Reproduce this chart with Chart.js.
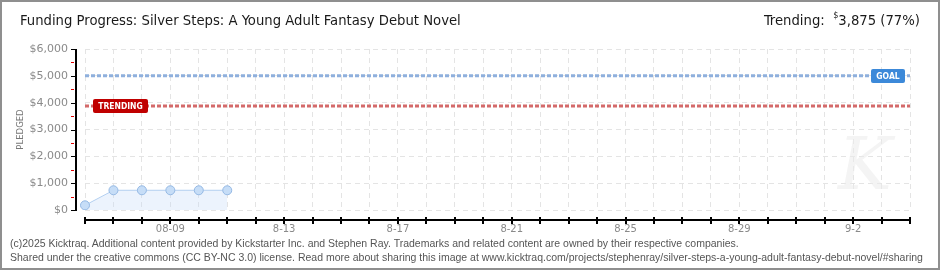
<!DOCTYPE html>
<html>
<head>
<meta charset="utf-8">
<script src="https://cdn.jsdelivr.net/npm/chart.js@4.4.1/dist/chart.umd.min.js"></script>
<style>
  html, body { margin: 0; padding: 0; background: #fff; }
  #wrap { position: relative; width: 940px; height: 270px; overflow: hidden; background: #fff; }
  #c { position: absolute; left: 0; top: 0; }
  #frame { position: absolute; left: 0; top: 0; width: 940px; height: 270px; box-sizing: border-box; border: 2px solid #8f8f8f; pointer-events: none; }
  .t { position: absolute; white-space: nowrap; color: #1a1a1a; font-family: "DejaVu Sans Condensed", "DejaVu Sans", sans-serif; }
  #title { left: 20px; top: 11px; font-size: 14.7px; }
  #trend { right: 20px; top: 11px; font-size: 14.7px; }
  #trend sup { font-size: 9px; position: relative; top: -1px; vertical-align: top; }
  .foot { position: absolute; left: 10px; white-space: nowrap; color: #555; font-family: "Liberation Sans", Arial, sans-serif; font-size: 10.5px; }
  #wm { position: absolute; left: 838px; top: 128px; font-family: "DejaVu Serif", serif; font-style: italic; font-size: 72px; line-height: 1; color: rgba(235,235,235,0.55); pointer-events: none; }
</style>
</head>
<body>
<div id="wrap">
  <canvas id="c" width="940" height="270"></canvas>
  <div id="wm">K</div>
  <div class="t" id="title">Funding Progress: Silver Steps: A Young Adult Fantasy Debut Novel</div>
  <div class="t" id="trend">Trending:&nbsp; <sup>$</sup>3,875 (77%)</div>
  <div class="foot" id="f1" style="top:237px">(c)2025 Kicktraq. Additional content provided by Kickstarter Inc. and Stephen Ray. Trademarks and related content are owned by their respective companies.</div>
  <div class="foot" id="f2" style="top:251px">Shared under the creative commons (CC BY-NC 3.0) license. Read more about sharing this image at www.kicktraq.com/projects/stephenray/silver-steps-a-young-adult-fantasy-debut-novel/#sharing</div>
  <div id="frame"></div>
</div>
<script>
// ---- data ----
const days = ['08-06','08-07','08-08','08-09','08-10','08-11','08-12','08-13','08-14','08-15',
              '08-16','08-17','08-18','08-19','08-20','08-21','08-22','08-23','08-24','08-25',
              '08-26','08-27','08-28','08-29','08-30','08-31','09-01','09-02','09-03','09-04'];
const pledged = [175, 735, 735, 735, 735, 735];
const goal = 5000;
const trending = 3875;
const yTickValues = [0, 1000, 2000, 3000, 4000, 5000, 6000];
const yMinorValues = [500, 1500, 2500, 3500, 4500, 5500];
const xTickLabels = { '08-09': '08-09', '08-13': '8-13', '08-17': '8-17', '08-21': '8-21', '08-25': '8-25', '08-29': '8-29', '09-02': '9-2' };

const axesPlugin = {
  id: 'kickAxes',
  afterDraw(chart) {
    const ctx = chart.ctx;
    const x = chart.scales.x, y = chart.scales.y;
    const area = chart.chartArea;
    ctx.save();
    ctx.setLineDash([]);
    // y axis line
    const ax = Math.round(area.left - 9);
    const yTop = Math.round(y.getPixelForValue(6000));
    const yBot = Math.round(y.getPixelForValue(0));
    ctx.fillStyle = '#000';
    ctx.fillRect(ax - 1, yTop, 2, yBot - yTop + 1);
    yTickValues.forEach(v => {
      const py = Math.round(y.getPixelForValue(v));
      ctx.fillRect(ax - 5, py, 5, 1);
    });
    ctx.fillStyle = '#e00000';
    yMinorValues.forEach(v => {
      const py = Math.round(y.getPixelForValue(v));
      ctx.fillRect(ax - 5, py, 3, 1);
    });
    // x axis line
    const ay = Math.round(area.bottom + 10);
    const x0 = Math.round(x.getPixelForValue(0));
    const x1 = Math.round(x.getPixelForValue(days.length - 1));
    ctx.fillStyle = '#000';
    ctx.fillRect(x0, ay - 1, x1 - x0 + 1, 2);
    days.forEach((d, i) => {
      const px = Math.round(x.getPixelForValue(i));
      ctx.fillRect(px - 1, ay - 3, 2, 7);
    });
    // labels
    const badge = (text, bx, w, value, color) => {
      const cy = y.getPixelForValue(value);
      const h = 14;
      ctx.fillStyle = color;
      ctx.beginPath();
      ctx.roundRect(bx, Math.round(cy - h / 2), w, h, 2);
      ctx.fill();
      ctx.fillStyle = '#fff';
      ctx.font = 'bold 8.5px "DejaVu Sans Condensed", "DejaVu Sans", sans-serif';
      ctx.textBaseline = 'middle';
      ctx.textAlign = 'center';
      ctx.fillText(text, bx + w / 2, Math.round(cy) + 0.5);
    };
    badge('GOAL', area.right - 39, 34, goal, '#3c89d9');
    badge('TRENDING', area.left + 8, 55, trending, '#c00000');
    ctx.restore();
  }
};

new Chart(document.getElementById('c'), {
  type: 'line',
  data: {
    labels: days,
    datasets: [
      {
        data: pledged,
        borderColor: '#b3cff0',
        borderWidth: 1,
        backgroundColor: 'rgba(200,222,248,0.35)',
        fill: 'origin',
        tension: 0,
        pointRadius: 4.5,
        pointBackgroundColor: '#c6ddf7',
        pointBorderColor: '#95b9e4',
        pointBorderWidth: 1,
        order: 1
      },
      {
        data: days.map(() => goal),
        borderColor: '#8fb0dd',
        borderWidth: 3,
        borderDash: [4, 2],
        pointRadius: 0,
        fill: false,
        order: 2
      },
      {
        data: days.map(() => trending),
        borderColor: '#d46a6a',
        borderWidth: 3,
        borderDash: [4, 2],
        pointRadius: 0,
        fill: false,
        order: 3
      }
    ]
  },
  options: {
    responsive: false,
    animation: false,
    events: [],
    layout: { padding: { top: 49, right: 30, left: 0, bottom: 0 } },
    plugins: { legend: { display: false }, tooltip: { enabled: false } },
    scales: {
      x: {
        type: 'category',
        offset: false,
        afterFit: s => { s.height = 60; },
        grid: { color: '#e4e4e4', lineWidth: 1, drawTicks: false },
        border: { display: false, dash: [5, 4] },
        ticks: {
          autoSkip: false, maxRotation: 0, minRotation: 0, padding: 13,
          color: '#8a8a8a', font: { family: '"DejaVu Sans", sans-serif', size: 10 },
          callback: (v, i) => xTickLabels[days[i]] || ''
        }
      },
      y: {
        min: 0, max: 6000,
        afterBuildTicks: s => { s.ticks = yTickValues.map(v => ({ value: v })); },
        afterFit: s => { s.width = 85; },
        grid: { color: '#e4e4e4', lineWidth: 1, drawTicks: false },
        border: { display: false, dash: [5, 4] },
        title: { display: true, text: 'PLEDGED', color: '#777', padding: { top: 16, bottom: 0 },
                 font: { family: '"DejaVu Sans", sans-serif', size: 8.5 } },
        ticks: {
          padding: 17, color: '#8a8a8a', font: { family: '"DejaVu Sans", sans-serif', size: 11 },
          callback: v => '$' + v.toLocaleString('en-US')
        }
      }
    }
  },
  plugins: [axesPlugin]
});
</script>
</body>
</html>
